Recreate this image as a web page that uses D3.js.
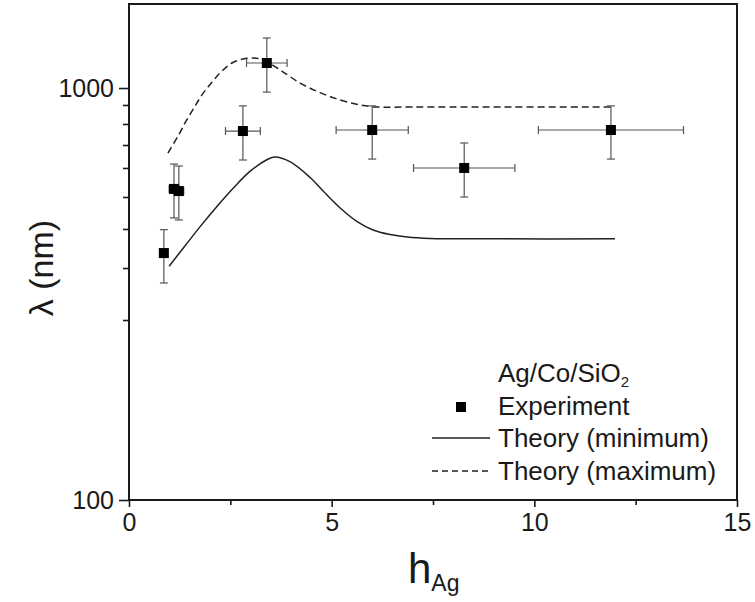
<!DOCTYPE html>
<html>
<head>
<meta charset="utf-8">
<script src="https://cdn.jsdelivr.net/npm/d3@7"></script>
<style>
  body { margin: 0; background: #fff; }
  svg { font-family: "Liberation Sans", Arial, sans-serif; }
</style>
</head>
<body>
<div id="chart"></div>
<script>
// experiment (h_Ag, lambda in nm) with error bars
var expX    = [0.86, 1.11, 1.23, 2.81, 3.40, 6.00, 8.27, 11.89];
var expY    = [335, 526, 519, 765, 1167, 770, 600, 770];
var expXErr = [0.05, 0.12, 0.12, 0.43, 0.50, 0.89, 1.25, 1.79];
var expYHi  = [398, 616, 608, 895, 1362, 895, 709, 895];
var expYLo  = [267, 432, 426, 633, 975, 637, 500, 637];

// theory (minimum) - solid
var minX = [0.99, 1.38, 1.75, 2.17, 2.57, 2.99, 3.40, 3.60, 3.97, 4.47, 4.79, 5.21, 5.63, 6.02, 6.44, 6.86, 7.43, 9.0, 11.99];
var minY = [304, 353, 406, 468, 528, 588, 634, 646, 626, 565, 519, 463, 421, 397, 384, 377, 373, 372, 372];

// theory (maximum) - dashed
var maxX = [0.96, 1.21, 1.41, 1.60, 1.80, 2.05, 2.27, 2.54, 2.81, 3.06, 3.31, 3.73, 4.22, 4.71, 5.21, 5.70, 6.12, 7.0, 9.0, 11.94];
var maxY = [663, 741, 815, 883, 958, 1038, 1104, 1167, 1196, 1204, 1189, 1118, 1031, 972, 928, 900, 889, 889, 889, 889];

var xTicks = [0, 5, 10, 15];
var xMinor = [2.5, 7.5, 12.5];
var yTicks = [100, 1000];
var yMinor = [200, 300, 400, 500, 600, 700, 800, 900];

var legendLabels = ["Experiment", "Theory (minimum)", "Theory (maximum)"];

var W = 755, H = 602;
var margin = {top: 4, right: 18, bottom: 102, left: 129};
var w = W - margin.left - margin.right;
var h = H - margin.top - margin.bottom;

var svg = d3.select("#chart").append("svg")
  .attr("width", W)
  .attr("height", H);

var g = svg.append("g")
  .attr("transform", "translate(" + margin.left + "," + margin.top + ")");

var x = d3.scaleLinear().domain([0, 15]).range([0, w]);

// the printed log axis is not evenly spaced, so calibrate it on its own ticks
var yCal = [1680, 1000, 900, 800, 700, 600, 500, 400, 300, 200, 100];
var yFrac = [0, 0.1694, 0.2036, 0.2419, 0.2843, 0.3306, 0.3891, 0.4536, 0.5323, 0.6371, 1];
var y = d3.scaleLog().domain(yCal).range(yFrac.map(function(f) { return f * h; }));

var ink = "#1a1a1a";
var narrow = "'Liberation Sans Narrow', 'Arial Narrow', 'Liberation Sans', sans-serif";

// axes
g.append("g")
  .attr("transform", "translate(0," + h + ")")
  .call(d3.axisBottom(x).tickValues(xTicks).tickSize(7).tickPadding(6).tickSizeOuter(0)
    .tickFormat(d3.format("d")));
g.append("g")
  .attr("transform", "translate(0," + h + ")")
  .call(d3.axisBottom(x).tickValues(xMinor).tickSize(5).tickFormat("").tickSizeOuter(0));

g.append("g")
  .call(d3.axisLeft(y).tickValues(yTicks).tickSize(10).tickPadding(5).tickSizeOuter(0)
    .tickFormat(d3.format("d")));
g.append("g")
  .call(d3.axisLeft(y).tickValues(yMinor).tickSize(6).tickFormat("").tickSizeOuter(0));

g.selectAll(".domain").remove();
g.selectAll(".tick line").attr("stroke", ink).attr("stroke-width", 1.6);
g.selectAll(".tick text")
  .attr("fill", ink)
  .style("font-family", narrow)
  .style("font-size", "25px");

// frame
g.append("rect")
  .attr("width", w)
  .attr("height", h)
  .attr("fill", "none")
  .attr("stroke", ink)
  .attr("stroke-width", 2);

// theory curves
var line = d3.line()
  .x(function(d) { return x(d[0]); })
  .y(function(d) { return y(d[1]); })
  .curve(d3.curveCatmullRom.alpha(0.5));

g.append("path")
  .datum(d3.zip(minX, minY))
  .attr("d", line)
  .attr("fill", "none")
  .attr("stroke", "#222")
  .attr("stroke-width", 1.5);

g.append("path")
  .datum(d3.zip(maxX, maxY))
  .attr("d", line)
  .attr("fill", "none")
  .attr("stroke", "#222")
  .attr("stroke-width", 1.5)
  .attr("stroke-dasharray", "7,4");

// error bars
var errColor = "#555";
var pts = expX.map(function(d, i) {
  return {x: d, y: expY[i], xe: expXErr[i], hi: expYHi[i], lo: expYLo[i]};
});

var eb = g.selectAll(".err")
  .data(pts)
  .enter()
  .append("g")
  .attr("class", "err")
  .attr("stroke", errColor)
  .attr("stroke-width", 1.2);

eb.append("line")
  .attr("x1", function(d) { return x(d.x); })
  .attr("x2", function(d) { return x(d.x); })
  .attr("y1", function(d) { return y(d.hi); })
  .attr("y2", function(d) { return y(d.lo); });
eb.append("line")
  .attr("x1", function(d) { return x(d.x) - 4; })
  .attr("x2", function(d) { return x(d.x) + 4; })
  .attr("y1", function(d) { return y(d.hi); })
  .attr("y2", function(d) { return y(d.hi); });
eb.append("line")
  .attr("x1", function(d) { return x(d.x) - 4; })
  .attr("x2", function(d) { return x(d.x) + 4; })
  .attr("y1", function(d) { return y(d.lo); })
  .attr("y2", function(d) { return y(d.lo); });
eb.append("line")
  .attr("x1", function(d) { return x(d.x - d.xe); })
  .attr("x2", function(d) { return x(d.x + d.xe); })
  .attr("y1", function(d) { return y(d.y); })
  .attr("y2", function(d) { return y(d.y); });
eb.append("line")
  .attr("x1", function(d) { return x(d.x - d.xe); })
  .attr("x2", function(d) { return x(d.x - d.xe); })
  .attr("y1", function(d) { return y(d.y) - 4; })
  .attr("y2", function(d) { return y(d.y) + 4; });
eb.append("line")
  .attr("x1", function(d) { return x(d.x + d.xe); })
  .attr("x2", function(d) { return x(d.x + d.xe); })
  .attr("y1", function(d) { return y(d.y) - 4; })
  .attr("y2", function(d) { return y(d.y) + 4; });

// markers
var ms = 10;
g.selectAll(".pt")
  .data(pts)
  .enter()
  .append("rect")
  .attr("class", "pt")
  .attr("x", function(d) { return x(d.x) - ms / 2; })
  .attr("y", function(d) { return y(d.y) - ms / 2; })
  .attr("width", ms)
  .attr("height", ms)
  .attr("fill", "#000");

// axis titles
svg.append("text")
  .attr("transform", "translate(53,268) rotate(-90)")
  .attr("text-anchor", "middle")
  .attr("fill", ink)
  .style("font-size", "34px")
  .text("\u03bb (nm)");

var xt = svg.append("text")
  .attr("x", 408)
  .attr("y", 583)
  .attr("fill", ink)
  .style("font-size", "42px");
xt.append("tspan").text("h");
xt.append("tspan").attr("dy", 8).style("font-size", "23px").text("Ag");

// legend
var lg = svg.append("g").attr("fill", ink).style("font-size", "26px");
var lx = 498;
var lt = lg.append("text").attr("x", lx).attr("y", 382);
lt.append("tspan").text("Ag/Co/SiO");
lt.append("tspan").attr("dy", 5).style("font-size", "15px").text("2");

var rowY = [415, 447, 480];
lg.selectAll(".lab")
  .data(legendLabels)
  .enter()
  .append("text")
  .attr("class", "lab")
  .attr("x", lx)
  .attr("y", function(d, i) { return rowY[i]; })
  .text(function(d) { return d; });

lg.append("rect")
  .attr("x", 456)
  .attr("y", rowY[0] - 13)
  .attr("width", 10)
  .attr("height", 10)
  .attr("fill", "#000");
lg.append("line")
  .attr("x1", 432).attr("x2", 490)
  .attr("y1", rowY[1] - 9).attr("y2", rowY[1] - 9)
  .attr("stroke", "#222").attr("stroke-width", 1.5);
lg.append("line")
  .attr("x1", 432).attr("x2", 490)
  .attr("y1", rowY[2] - 9).attr("y2", rowY[2] - 9)
  .attr("stroke", "#222").attr("stroke-width", 1.5)
  .attr("stroke-dasharray", "6,4");
</script>
</body>
</html>
